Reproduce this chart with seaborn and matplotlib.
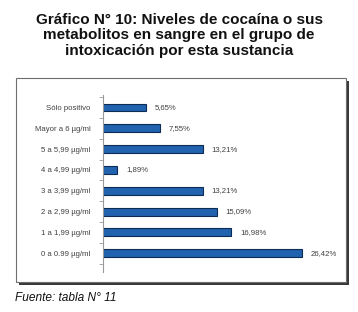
import matplotlib
import matplotlib.pyplot as plt
import pandas as pd
import seaborn as sns
from matplotlib.patches import Rectangle

matplotlib.use('Agg')

# Data
categories = ['Sólo positivo', 'Mayor a 6 µg/ml', '5 a 5,99 µg/ml', '4 a 4,99 µg/ml',
              '3 a 3,99 µg/ml', '2 a 2,99 µg/ml', '1 a 1,99 µg/ml', '0 a 0.99 µg/ml']
values = [5.65, 7.55, 13.21, 1.89, 13.21, 15.09, 16.98, 26.42]
value_labels = ['5,65%', '7,55%', '13,21%', '1,89%', '13,21%', '15,09%', '16,98%', '26,42%']

title = 'Gráfico N° 10: Niveles de cocaína o sus\nmetabolitos en sangre en el grupo de\nintoxicación por esta sustancia'
source = 'Fuente: tabla N° 11'

W, H = 358, 312


def make_chart(output_file):
    df = pd.DataFrame({'categoria': categories, 'valor': values})

    sns.set_style('white')
    plt.rcParams['font.family'] = ['Liberation Sans', 'DejaVu Sans']

    fig = plt.figure(figsize=(W / 100, H / 100), dpi=100)

    # framed box with shadow (Excel style)
    fig.patches.append(Rectangle((19 / W, 1 - 285 / H), 330 / W, 204 / H,
                                 transform=fig.transFigure, facecolor='#3a3a3a',
                                 edgecolor='none', zorder=0))
    fig.patches.append(Rectangle((16 / W, 1 - 282 / H), 330 / W, 204 / H,
                                 transform=fig.transFigure, facecolor='white',
                                 edgecolor='#6e6e6e', linewidth=0.8, zorder=1))

    ax = fig.add_axes([103 / W, 1 - 272 / H, 226 / W, 177 / H])
    ax.set_zorder(2)
    ax.set_facecolor('none')
    sns.barplot(data=df, x='valor', y='categoria', orient='h', color='#2163ae',
                edgecolor='#0d2c55', linewidth=0.8, width=0.38, saturation=1, ax=ax)

    ax.set_xlim(0, 30)
    ax.set_ylim(7.9, -0.6)
    ax.set_xlabel('')
    ax.set_ylabel('')
    ax.set_xticks([])

    for s in ['top', 'right', 'bottom']:
        ax.spines[s].set_visible(False)
    ax.spines['left'].set_color('#9a9a9a')
    ax.spines['left'].set_linewidth(0.8)

    ax.tick_params(axis='y', left=False, length=0, pad=9, labelsize=5.6,
                   labelcolor='#404040')
    ax.set_yticks([i + 0.5 for i in range(-1, 8)], minor=True)
    ax.tick_params(axis='y', which='minor', left=True, length=3, width=0.6,
                   color='#9a9a9a', direction='out')

    for i, (v, lab) in enumerate(zip(values, value_labels)):
        ax.text(v + 1.2, i, lab, va='center', ha='left', fontsize=5.6, color='#404040')

    fig.text(0.5, 1 - 13 / H, title, ha='center', va='top', fontsize=11,
             fontweight='bold', color='#111111', linespacing=1.12)
    fig.text(15 / W, 1 - 298 / H, source, ha='left', va='center', fontsize=8.6,
             style='italic', color='#111111')

    fig.savefig(output_file, dpi=100)
    plt.close(fig)


if __name__ == '__main__':
    make_chart('out.png')
